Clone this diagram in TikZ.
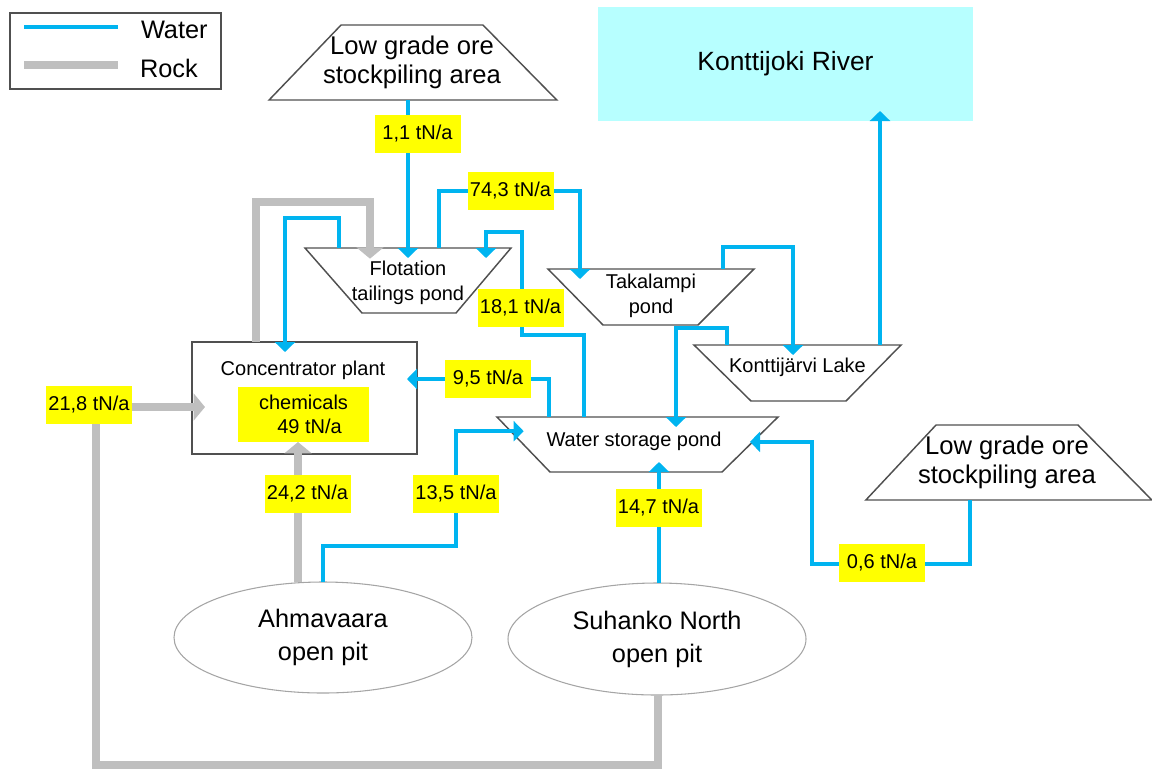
\documentclass[tikz,border=0pt]{standalone}
\usepackage{fontspec}
\setmainfont{Liberation Sans}
\usetikzlibrary{shapes.geometric,arrows.meta}
\definecolor{waterc}{RGB}{0,180,240}
\definecolor{rockc}{RGB}{191,191,191}
\definecolor{labc}{RGB}{255,255,0}
\definecolor{riverc}{RGB}{183,255,255}
\definecolor{edgec}{RGB}{80,80,80}
\definecolor{ellc}{RGB}{165,165,165}
\begin{document}
\begin{tikzpicture}[x=0.75pt,y=-0.75pt,
  every node/.style={outer sep=0pt},
  shapeline/.style={draw=edgec,line width=1.1pt},
  ore/.style={shapeline,trapezium,trapezium stretches=true,inner sep=3pt},
  pondbox/.style={inner sep=0pt},
  water/.style={draw=waterc,line width=3pt,-{Triangle[width=15pt,length=7.5pt]}},
  rock/.style={draw=rockc,line width=5.5pt,-{Triangle[width=20pt,length=8.5pt]}},
  into/.style={shorten >=-7.5pt},
  lab/.style={fill=labc,minimum width=64.5pt,minimum height=28.5pt,inner sep=0pt,font=\fontsize{15}{18}\selectfont},
  txtS/.style={font=\fontsize{15}{19}\selectfont,align=center},
  txtM/.style={font=\fontsize{19.2}{22}\selectfont,align=center},
  txtL/.style={font=\fontsize{19}{24.75}\selectfont,align=center},
  txtXL/.style={font=\fontsize{19.8}{24}\selectfont,align=center},
]
\useasboundingbox (0,0) rectangle (1152,769);

% legend
\node[shapeline,minimum width=158.25pt,minimum height=57pt] (legend) at (115.5,51) {};
\coordinate (lw1) at (24,27); \coordinate (lw2) at (118,27);
\coordinate (lr1) at (24,65); \coordinate (lr2) at (118,65);
\draw[draw=waterc,line width=3pt] (lw1) -- (lw2);
\draw[draw=rockc,line width=6pt] (lr1) -- (lr2);
\node[txtL,anchor=west,inner sep=0pt] (lwt) at (141,30) {Water};
\node[txtL,anchor=west,inner sep=0pt] (lrt) at (140,68) {Rock};

% stockpiles and river
\node[ore,minimum width=216pt,minimum height=56.25pt,trapezium left angle=63.1,trapezium right angle=62.5] (ore1) at (412,62.5) {};
\node[txtM] (ore1t) at (ore1.center) {Low grade ore\\stockpiling area};
\node[ore,minimum width=214.5pt,minimum height=56.25pt,trapezium left angle=63.7,trapezium right angle=62.5] (ore2) at (1007,462.5) {};
\node[txtM] (ore2t) at (ore2.center) {Low grade ore\\stockpiling area};
\node[fill=riverc,minimum width=281.25pt,minimum height=85.5pt,txtXL] (river) at (785.5,64) {Konttijoki River};

% ponds (top wider than bottom)
\node[pondbox,minimum width=154.5pt,minimum height=48.75pt] (flot) at (408,280.5) {};
\draw[shapeline] (flot.north west) -- (flot.north east) -- ([xshift=-41.25pt]flot.south east) -- ([xshift=42.75pt]flot.south west) -- cycle;
\node[txtS] (flott) at ([yshift=-1.5pt]flot.center) {Flotation\\tailings pond};

\node[pondbox,minimum width=154.5pt,minimum height=42pt] (taka) at (651,297) {};
\draw[shapeline] (taka.north west) -- (taka.north east) -- ([xshift=-42pt]taka.south east) -- ([xshift=41.25pt]taka.south west) -- cycle;
\node[txtS] (takat) at ([yshift=1pt]taka.center) {Takalampi\\pond};

\node[pondbox,minimum width=155.25pt,minimum height=42pt] (lake) at (797.5,373) {};
\draw[shapeline] (lake.north west) -- (lake.north east) -- ([xshift=-41.25pt]lake.south east) -- ([xshift=42.75pt]lake.south west) -- cycle;
\node[txtS] (laket) at ([yshift=4.5pt]lake.center) {Konttijärvi Lake};

\node[pondbox,minimum width=210.75pt,minimum height=41.25pt] (wsp) at (637.5,444.5) {};
\draw[shapeline] (wsp.north west) -- (wsp.north east) -- ([xshift=-42pt]wsp.south east) -- ([xshift=39.75pt]wsp.south west) -- cycle;
\node[txtS] (wspt) at ([xshift=-2.6pt,yshift=2.6pt]wsp.center) {Water storage pond};
\coordinate (wspL) at ([xshift=20pt,yshift=10pt]wsp.west);
\coordinate (wspR) at ([xshift=-21pt,yshift=2pt]wsp.east);

% plant and pits
\node[shapeline,minimum width=168.75pt,minimum height=84pt] (conc) at (304.5,398) {};
\node[txtS] (conct) at (303,370) {Concentrator plant};
\node[fill=labc,minimum width=98.25pt,minimum height=41.25pt,inner sep=0pt,font=\fontsize{15}{18}\selectfont,align=center] (chem) at (303.5,414.5) {chemicals\\\hspace*{9pt}49 tN/a};
\node[ellipse,draw=ellc,line width=0.8pt,minimum width=223.5pt,minimum height=83.25pt,txtL] (ahma) at (323,637.5) {Ahmavaara\\open pit};
\node[ellipse,draw=ellc,line width=0.8pt,minimum width=223.5pt,minimum height=84pt,txtL] (suh) at (657,639) {Suhanko North\\open pit};

% connectors
\draw[water,into] (ore1.south -| flot.north) -- (flot.north);
\draw[water,into] (flot.north -| 339,0) -- (339,218) -- (285,218) -- (conc.north -| 285,0);
\draw[rock,shorten >=-8pt] (conc.north -| 256,0) -- (256,202) -- (370,202) -- (flot.north -| 370,0);
\draw[water,into] (flot.north -| 439,0) -- (439,191) -- (580,191) -- (taka.north -| 580,0);
\draw[water,into] (wsp.north -| 584,0) -- (584,335) -- (522,335) -- (522,232) -- (486,232) -- (flot.north -| 486,0);
\draw[water,into] (wsp.north -| 549,0) -- (549,379) -- (conc.east |- 0,379);
\draw[water,into] (taka.north -| 723,0) -- (723,247) -- (793,247) -- (lake.north -| 793,0);
\draw[water,into] (lake.north -| 727,0) -- (727,328) -- (676,328) -- (wsp.north -| 676,0);
\draw[water,into] (lake.north -| 880,0) -- (river.south -| 880,0);
\draw[water] (ore2.south -| 970,0) -- (970,564) -- (812,564) -- (812,0 |- wspR) -- (wspR);
\draw[water] (ahma.north) -- (323,546) -- (456,546) -- (456,0 |- wspL) -- (wspL);
\draw[water,into] (suh.north -| 659,0) -- (wsp.south -| 659,0);
\draw[rock] (ahma.north -| 298,0) -- (chem.south -| 298,0);
\draw[rock,shorten >=-9.75pt] (suh.south -| 658,0) -- (658,765) -- (96,765) -- (96,407) -- (conc.west |- 0,407);

% flow labels
\node[lab] (l11) at (417.5,133.5) {1,1 tN/a};
\node[lab] (l743) at (510.5,190.5) {74,3 tN/a};
\node[lab] (l181) at (520.5,307.5) {18,1 tN/a};
\node[lab] (l95) at (488,378.5) {9,5 tN/a};
\node[lab] (l218) at (89,404.5) {21,8 tN/a};
\node[lab] (l242) at (307.5,493.5) {24,2 tN/a};
\node[lab] (l135) at (456,493.5) {13,5 tN/a};
\node[lab] (l147) at (658.5,507.5) {14,7 tN/a};
\node[lab] (l06) at (882,562.5) {0,6 tN/a};
\end{tikzpicture}
\end{document}
